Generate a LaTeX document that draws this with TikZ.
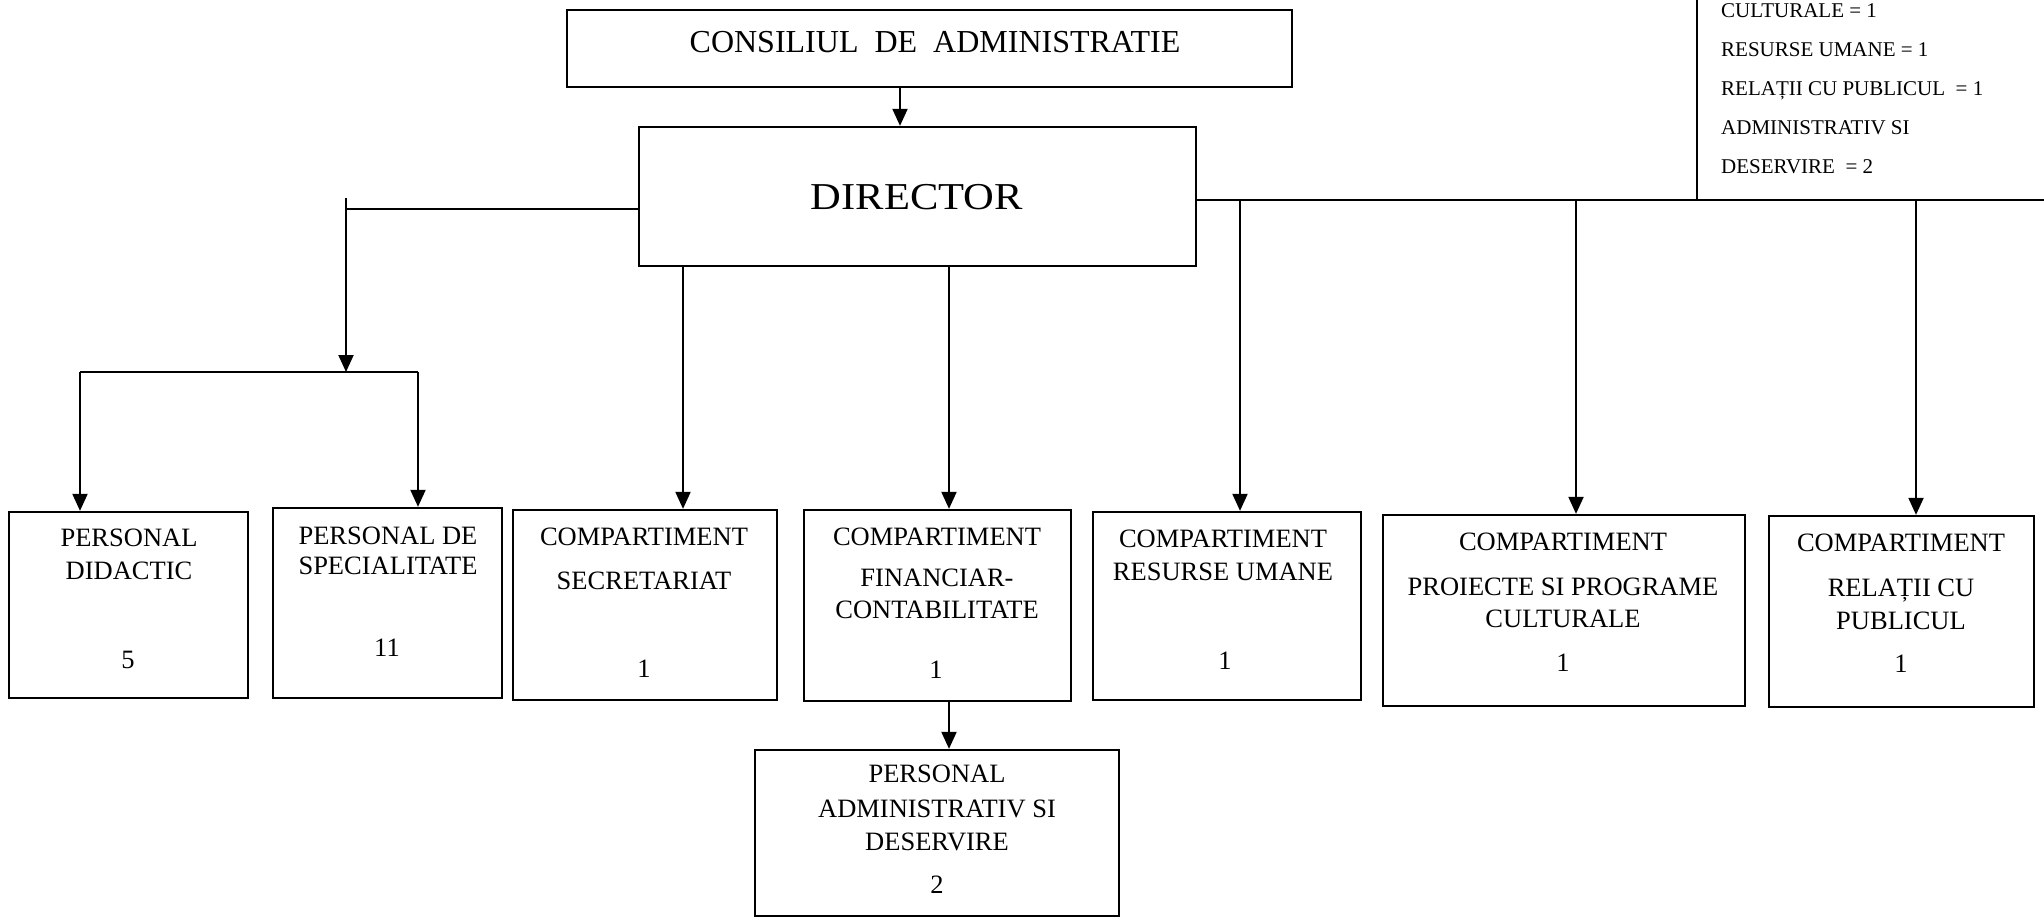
\documentclass[tikz,border=0pt]{standalone}
\usepackage{fontspec}
\setmainfont{Liberation Serif}
\usetikzlibrary{arrows.meta}
\tikzset{
  box/.style={draw, line width=2.3pt, inner sep=0pt},
  txt/.style={font=\fontsize{26.5}{30}\selectfont, inner sep=0pt, anchor=base},
  leg/.style={font=\fontsize{21}{25}\selectfont, inner sep=0pt, anchor=base west},
  conn/.style={line width=2pt},
  arr/.style={conn, -{Triangle[length=17pt,width=15pt]}},
}
\newcommand\mkbox[5]{\node[box, minimum width={#4-#2}, minimum height={#5-#3}] (#1) at ({(#2+#4)/2},{(#3+#5)/2}) {};}
\begin{document}
\begin{tikzpicture}[x=1pt,y=-1pt]
\useasboundingbox (0,0) rectangle (2044,920);
\clip (0,0) rectangle (2044,920);
\fill[white] (0,0) rectangle (2044,920);

% boxes
\mkbox{cons}{567}{10}{1292}{87}
\mkbox{dir}{639}{127}{1196}{266}
\mkbox{pd}{9}{512}{248}{698}
\mkbox{ps}{273}{508}{502}{698}
\mkbox{sec}{513}{510}{777}{700}
\mkbox{fin}{804}{510}{1071}{701}
\mkbox{pa}{755}{750}{1119}{916}
\mkbox{res}{1093}{512}{1361}{700}
\mkbox{pro}{1383}{515}{1745}{706}
\mkbox{rel}{1769}{516}{2034}{707}
\mkbox{leg}{1697}{-100}{2200}{200}

% titles
\node[font=\fontsize{32}{36}\selectfont, inner sep=0pt, anchor=base] (cons-t) at (935,53) {CONSILIUL\ \ DE\ \ ADMINISTRATIE};
\node[inner sep=0pt, anchor=base] (dir-t) at (917,209) {\fontsize{38}{44}\selectfont\scalebox{1.12}[1]{DIRECTOR}};

% box texts
\node[txt] (pd-a) at (129,546) {PERSONAL};
\node[txt] (pd-b) at (129,579) {DIDACTIC};
\node[txt] (pd-n) at (128,668) {5};

\node[txt] (ps-a) at (388,544) {PERSONAL DE};
\node[txt] (ps-b) at (388,574) {SPECIALITATE};
\node[txt] (ps-n) at (387,656) {11};

\node[txt] (sec-a) at (644,545) {COMPARTIMENT};
\node[txt] (sec-b) at (644,589) {SECRETARIAT};
\node[txt] (sec-n) at (644,677) {1};

\node[txt] (fin-a) at (937,545) {COMPARTIMENT};
\node[txt] (fin-b) at (937,586) {FINANCIAR-};
\node[txt] (fin-c) at (937,618) {CONTABILITATE};
\node[txt] (fin-n) at (936,678) {1};

\node[txt] (pa-a) at (937,782) {PERSONAL};
\node[txt] (pa-b) at (937,817) {ADMINISTRATIV SI};
\node[txt] (pa-c) at (937,850) {DESERVIRE};
\node[txt] (pa-n) at (937,893) {2};

\node[txt] (res-a) at (1223,547) {COMPARTIMENT};
\node[txt] (res-b) at (1223,580) {RESURSE UMANE};
\node[txt] (res-n) at (1225,669) {1};

\node[txt] (pro-a) at (1563,550) {COMPARTIMENT};
\node[txt] (pro-b) at (1563,595) {PROIECTE SI PROGRAME};
\node[txt] (pro-c) at (1563,627) {CULTURALE};
\node[txt] (pro-n) at (1563,671) {1};

\node[txt] (rel-a) at (1901,551) {COMPARTIMENT};
\node[txt] (rel-b) at (1901,596) {RELAȚII CU};
\node[txt] (rel-c) at (1901,629) {PUBLICUL};
\node[txt] (rel-n) at (1901,672) {1};

% legend texts
\node[leg] (leg-a) at (1721,18) {CULTURALE = 1};
\node[leg] (leg-b) at (1721,57) {RESURSE UMANE = 1};
\node[leg] (leg-c) at (1721,96) {RELAȚII CU PUBLICUL\ \ = 1};
\node[leg] (leg-d) at (1721,135) {ADMINISTRATIV SI};
\node[leg] (leg-e) at (1721,174) {DESERVIRE\ \ = 2};

% connectors
\coordinate (cx) at (900,0);
\draw[arr] (cons.south -| cx) -- (dir.north -| cx);

\coordinate (lt) at (346,198);
\coordinate (lm) at (346,209);
\coordinate (lj) at (346,372);
\coordinate (ll) at (80,372);
\coordinate (lr) at (418,372);
\draw[conn] (dir.west |- lm) -- (lm);
\draw[arr] (lt) -- (lj);
\draw[conn] (ll) -- (lr);
\draw[arr] (ll) -- (pd.north -| ll);
\draw[arr] (lr) -- (ps.north -| lr);

\coordinate (sx) at (683,0);
\draw[arr] (dir.south -| sx) -- (sec.north -| sx);
\coordinate (fx) at (949,0);
\draw[arr] (dir.south -| fx) -- (fin.north -| fx);
\draw[arr] (fin.south -| fx) -- (pa.north -| fx);

\coordinate (rr) at (2044,200);
\draw[conn] (dir.east |- rr) -- (rr);
\coordinate (rx) at (1240,200);
\draw[arr] (rx) -- (res.north -| rx);
\coordinate (px) at (1576,200);
\draw[arr] (px) -- (pro.north -| px);
\coordinate (qx) at (1916,200);
\draw[arr] (qx) -- (rel.north -| qx);
\end{tikzpicture}
\end{document}
